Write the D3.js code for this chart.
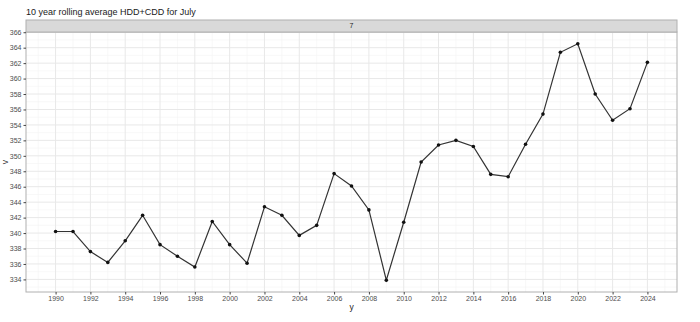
<!DOCTYPE html>
<html>
<head>
<meta charset="utf-8">
<script src="https://cdn.jsdelivr.net/npm/d3@7"></script>
<style>
  body { margin: 0; background: #fff; }
  svg { font-family: "Liberation Sans", Arial, sans-serif; }
</style>
</head>
<body>
<svg width="700" height="322"></svg>
<script>
// years and rolling average values
var years = [1990, 1991, 1992, 1993, 1994, 1995, 1996, 1997, 1998, 1999,
             2000, 2001, 2002, 2003, 2004, 2005, 2006, 2007, 2008, 2009,
             2010, 2011, 2012, 2013, 2014, 2015, 2016, 2017, 2018, 2019,
             2020, 2021, 2022, 2023, 2024];
var values = [340.2, 340.2, 337.6, 336.2, 339.0, 342.3, 338.5, 337.0, 335.6, 341.5,
              338.5, 336.1, 343.4, 342.3, 339.7, 341.0, 347.7, 346.1, 343.0, 333.9,
              341.4, 349.2, 351.4, 352.0, 351.2, 347.6, 347.3, 351.5, 355.4, 363.4,
              364.5, 358.0, 354.6, 356.1, 362.1];
var xTicks = d3.range(1990, 2025, 2);
var yTicks = d3.range(334, 367, 2);
var stripLabel = "7";

var svg = d3.select('svg');
// panel box (note: "top" is reserved on window, so use p* names)
var pLeft = 26, pRight = 677, stripTop = 20, stripH = 12, pBottom = 292;
var pTop = stripTop + stripH;

// ggplot-like 5% expansion
var xExt = d3.extent(years), yExt = d3.extent(values);
var xPad = (xExt[1] - xExt[0]) * 0.05, yPad = (yExt[1] - yExt[0]) * 0.05;

var x = d3.scaleLinear()
    .domain([xExt[0] - xPad, xExt[1] + xPad])
    .range([pLeft, pRight]);
var y = d3.scaleLinear()
    .domain([yExt[0] - yPad, yExt[1] + yPad])
    .range([pBottom, pTop]);

// title
svg.append('text')
    .attr('x', pLeft).attr('y', 14.5)
    .attr('font-size', 9).attr('fill', '#1a1a1a')
    .text('10 year rolling average HDD+CDD for July');

// minor grid
var g = svg.append('g');
var minorX = d3.range(1989, 2026, 2);
var minorY = d3.range(333, 366, 2);
g.selectAll('.mx').data(minorX).enter().append('line')
    .attr('x1', d => x(d)).attr('x2', d => x(d))
    .attr('y1', pTop).attr('y2', pBottom)
    .attr('stroke', '#f4f4f4').attr('stroke-width', 0.6);
g.selectAll('.my').data(minorY).enter().append('line')
    .attr('x1', pLeft).attr('x2', pRight)
    .attr('y1', d => y(d)).attr('y2', d => y(d))
    .attr('stroke', '#f4f4f4').attr('stroke-width', 0.6);
// major grid
g.selectAll('.gx').data(xTicks).enter().append('line')
    .attr('x1', d => x(d)).attr('x2', d => x(d))
    .attr('y1', pTop).attr('y2', pBottom)
    .attr('stroke', '#e8e8e8').attr('stroke-width', 1);
g.selectAll('.gy').data(yTicks).enter().append('line')
    .attr('x1', pLeft).attr('x2', pRight)
    .attr('y1', d => y(d)).attr('y2', d => y(d))
    .attr('stroke', '#e8e8e8').attr('stroke-width', 1);

// line and points
var line = d3.line()
    .x((d, i) => x(years[i]))
    .y(d => y(d));
svg.append('path')
    .datum(values)
    .attr('d', line)
    .attr('fill', 'none')
    .attr('stroke', '#333')
    .attr('stroke-width', 1.2);
svg.selectAll('.pt').data(values).enter().append('circle')
    .attr('cx', (d, i) => x(years[i]))
    .attr('cy', d => y(d))
    .attr('r', 1.8)
    .attr('fill', '#111');

// panel border
svg.append('rect')
    .attr('x', pLeft).attr('y', pTop)
    .attr('width', pRight - pLeft).attr('height', pBottom - pTop)
    .attr('fill', 'none').attr('stroke', '#b0b0b0').attr('stroke-width', 1);

// strip
svg.append('rect')
    .attr('x', pLeft).attr('y', stripTop)
    .attr('width', pRight - pLeft).attr('height', stripH)
    .attr('fill', '#d9d9d9').attr('stroke', '#b0b0b0').attr('stroke-width', 1);
svg.append('text')
    .attr('x', (pLeft + pRight) / 2).attr('y', stripTop + stripH / 2)
    .attr('dy', '0.35em').attr('text-anchor', 'middle')
    .attr('font-size', 7).attr('fill', '#1a1a1a')
    .text(stripLabel);

// axes
var xAxis = svg.append('g')
    .attr('transform', `translate(0,${pBottom})`)
    .call(d3.axisBottom(x).tickValues(xTicks).tickFormat(d3.format('d')).tickSize(2.5).tickPadding(2));
var yAxis = svg.append('g')
    .attr('transform', `translate(${pLeft},0)`)
    .call(d3.axisLeft(y).tickValues(yTicks).tickSize(2.5).tickPadding(2));
[xAxis, yAxis].forEach(function (a) {
    a.select('.domain').remove();
    a.selectAll('.tick line').attr('stroke', '#444');
    a.selectAll('.tick text').attr('fill', '#4d4d4d').attr('font-size', 7)
        .attr('font-family', '"Liberation Sans", Arial, sans-serif');
});

// axis titles
svg.append('text')
    .attr('x', (pLeft + pRight) / 2).attr('y', 310)
    .attr('text-anchor', 'middle').attr('font-size', 8.5).attr('fill', '#1a1a1a')
    .text('y');
svg.append('text')
    .attr('transform', `translate(8,${(pTop + pBottom) / 2}) rotate(-90)`)
    .attr('text-anchor', 'middle').attr('font-size', 8.5).attr('fill', '#1a1a1a')
    .text('v');
</script>
</body>
</html>
